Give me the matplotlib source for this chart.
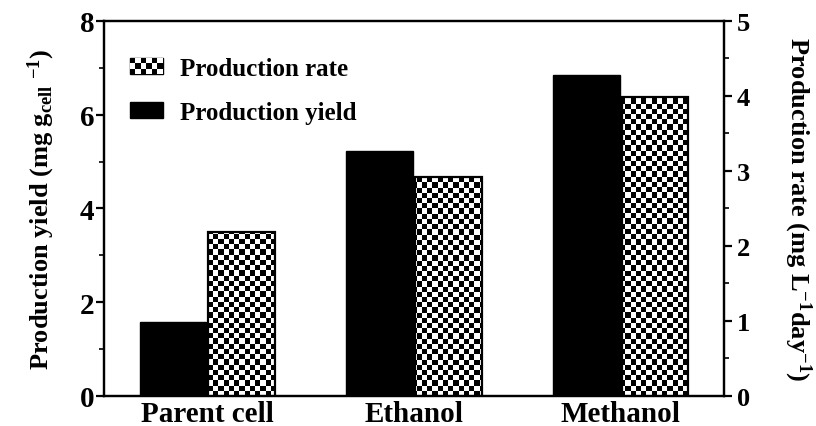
import numpy as np
import matplotlib
matplotlib.use("Agg")
import matplotlib.pyplot as plt
from matplotlib.patches import Rectangle
from matplotlib.legend_handler import HandlerBase

plt.rcParams['font.family'] = 'Liberation Serif'
plt.rcParams['font.weight'] = 'bold'
plt.rcParams['axes.labelweight'] = 'bold'
plt.rcParams['mathtext.fontset'] = 'custom'
plt.rcParams['mathtext.rm'] = 'Liberation Serif:bold'
plt.rcParams['mathtext.it'] = 'Liberation Serif:bold'
plt.rcParams['mathtext.bf'] = 'Liberation Serif:bold'

# data
categories = ["Parent cell", "Ethanol", "Methanol"]
yield_vals = [1.58, 5.23, 6.85]    # mg g_cell^-1
rate_vals = [2.19, 2.92, 3.99]     # mg L^-1 day^-1


class CheckerHandler(HandlerBase):
    # legend key drawn as a small black/white checkerboard
    def create_artists(self, legend, orig_handle, xdescent, ydescent,
                       width, height, fontsize, trans):
        x0, y0 = -xdescent, -ydescent
        arts = [Rectangle((x0, y0), width, height, facecolor='black',
                          edgecolor='black', lw=1.0, transform=trans)]
        nx, ny = 6, 3
        w, h = width / nx, height / ny
        for i in range(nx):
            for j in range(ny):
                if (i + j) % 2:
                    arts.append(Rectangle((x0 + i * w, y0 + j * h), w, h,
                                          facecolor='white', lw=0,
                                          transform=trans))
        return arts


fig = plt.figure(figsize=(8.16, 4.27), dpi=100)
ax = fig.add_axes([0.1275, 0.0703, 0.7598, 0.8782])
ax2 = ax.twinx()

x = np.arange(len(categories))
off = 0.166
w = 0.322

b1 = ax.bar(x - off, yield_vals, w, color='black', edgecolor='black', lw=1.0)

# checker-filled rate bars: texture image clipped to each bar
rate_bars = ax2.bar(x + off, rate_vals, w, facecolor='none',
                    edgecolor='black', lw=1.6, zorder=3)
ncols, nrows = 119, 72
checker = (np.indices((nrows, ncols)).sum(axis=0) % 2).astype(float)
for bar in rate_bars:
    im = ax2.imshow(checker, cmap='gray', vmin=0, vmax=1, aspect='auto',
                    interpolation='nearest', extent=(-0.5, 2.5, 0, 5),
                    zorder=2)
    im.set_clip_path(bar)

ax.set_xlim(-0.5, 2.5)
ax2.set_xlim(-0.5, 2.5)
ax.set_ylim(0, 8)
ax2.set_ylim(0, 5)

ax.set_xticks(x)
ax.set_xticklabels(categories, fontsize=21)
ax.tick_params(axis='x', length=0, pad=3)

ax.set_yticks([0, 2, 4, 6, 8])
ax.set_yticks([1, 3, 5, 7], minor=True)
ax.tick_params(axis='y', which='major', labelsize=21, length=6, width=1.6,
               direction='out', pad=1)
ax.tick_params(axis='y', which='minor', length=3.5, width=1.2, direction='out')

ax2.set_yticks([0, 1, 2, 3, 4, 5])
ax2.set_yticks(np.arange(0.5, 5, 1.0), minor=True)
ax2.tick_params(axis='y', which='major', labelsize=19, length=6, width=1.6,
                direction='out', pad=3)
ax2.tick_params(axis='y', which='minor', length=3.5, width=1.2, direction='out')

for a in (ax, ax2):
    for s in a.spines.values():
        s.set_linewidth(1.6)

ax.set_ylabel('Production yield (mg g$_{\\mathrm{cell}}$ $^{\\mathrm{-1}}$)',
              fontsize=19, labelpad=16)
ax2.set_ylabel('Production rate (mg L$^{\\mathrm{-1}}$day$^{\\mathrm{-1}}$)',
               fontsize=19, rotation=270, labelpad=46)

checker_key = Rectangle((0, 0), 1, 1)
leg = ax.legend([checker_key, b1], ['Production rate', 'Production yield'],
                handler_map={checker_key: CheckerHandler()},
                loc='upper left', bbox_to_anchor=(0.042, 0.905),
                frameon=False, fontsize=18, handlelength=1.3,
                handleheight=0.62, handletextpad=0.7, labelspacing=0.85,
                borderpad=0, borderaxespad=0)
leg.set_zorder(5)

fig.savefig('out.png', dpi=100)
